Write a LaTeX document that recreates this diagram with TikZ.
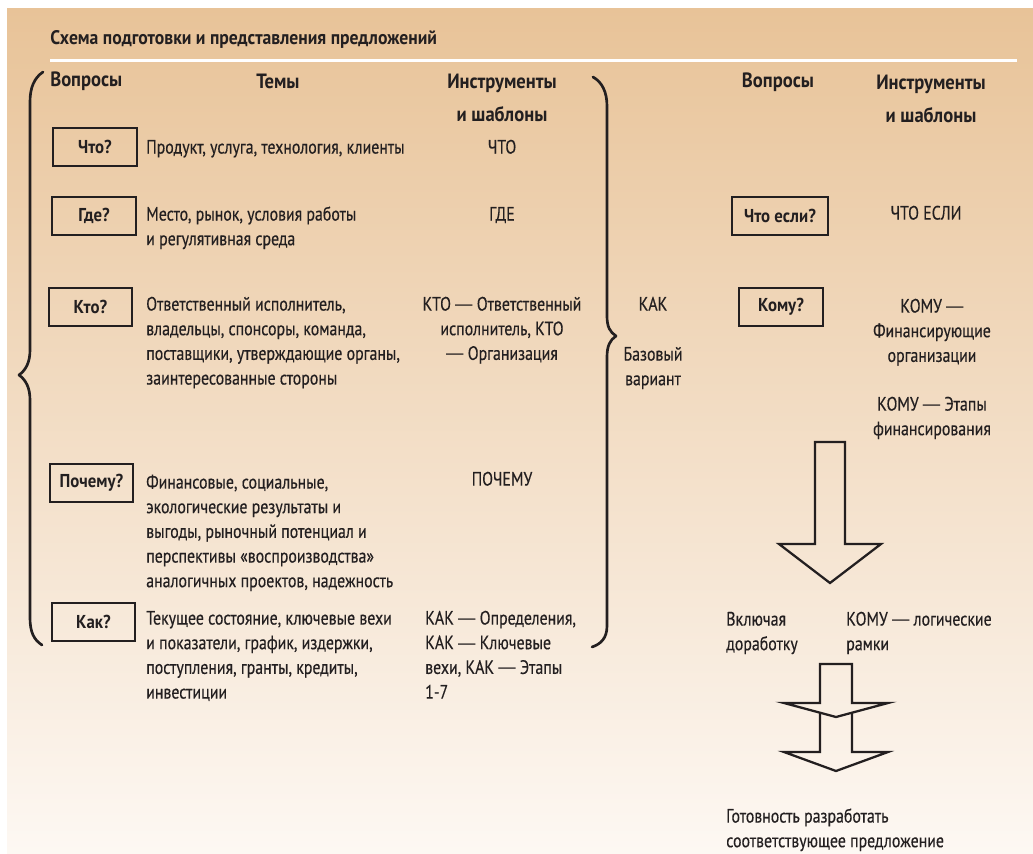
\documentclass[tikz,border=0pt]{standalone}
\usepackage{fontspec}
\setmainfont{PT Sans}[UprightFeatures={FakeStretch=0.82,FakeBold=0.4},BoldFeatures={FakeStretch=0.9}]
\newfontfamily\dashfont{Liberation Sans}[FakeStretch=0.9]
\newcommand{\md}{{\dashfont —}}
\definecolor{ink}{HTML}{231F20}
\definecolor{bgtop}{HTML}{E8C398}
\definecolor{bgbot}{HTML}{FDF8F3}
\tikzset{
  txt/.style={inner sep=0pt, text=ink, font=\fontsize{14.5}{18.5}\selectfont},
  hdr/.style={inner sep=0pt, text=ink, font=\bfseries\fontsize{15.5}{24.75}\selectfont},
  ttl/.style={inner sep=0pt, text=ink, font=\bfseries\fontsize{14.7}{16}\selectfont},
  qbox/.style={draw=ink, line width=0.9pt, inner sep=0pt, minimum height=28.5pt,
    text=ink, font=\bfseries\fontsize{14}{17}\selectfont},
  bracestroke/.style={draw=ink, line width=2pt, line cap=round, line join=round},
  bigarrow/.style={draw=ink, line width=1.7pt, line join=miter},
}
\begin{document}
\begin{tikzpicture}[x=0.75pt,y=-0.75pt]
\useasboundingbox (0,0) rectangle (1033,854);
\fill[white] (0,0) rectangle (1033,854);
\shade[top color=bgtop, bottom color=bgbot] (7,8) rectangle (1033,854);
\draw[white, line width=2.25pt] (50,60) -- (1017,60);

% title
\node[ttl, anchor=west] (title) at (50,39) {Схема подготовки и представления предложений};

% headers
\node[hdr, anchor=west] (hq) at (50,81) {Вопросы};
\node[hdr] (ht) at (278,81) {Темы};
\node[hdr, anchor=north, align=center] (hi) at (502,65) {\strut Инструменты\\и шаблоны};
\node[hdr] (hq2) at (778,82) {Вопросы};
\node[hdr, anchor=north, align=center] (hi2) at (931,66) {\strut Инструменты\\и шаблоны};

% question boxes left
\node[qbox, minimum width=63pt] (q1) at (95,147) {Что?};
\node[qbox, minimum width=63pt] (q2) at (94,216) {Где?};
\node[qbox, minimum width=62.25pt] (q3) at (90.5,307) {Кто?};
\node[qbox, minimum width=62.25pt] (q4) at (91.5,483) {Почему?};
\node[qbox, minimum width=62.25pt] (q5) at (93.5,622) {Как?};

% topics
\node[txt, anchor=north west, align=left] (t1) at (146,136) {\strut Продукт, услуга, технология, клиенты};
\node[txt, anchor=north west, align=left] (t2) at (146,203) {\strut Место, рынок, условия работы\\и регулятивная среда};
\node[txt, anchor=north west, align=left] (t3) at (146,293) {\strut Ответственный исполнитель,\\владельцы, спонсоры, команда,\\поставщики, утверждающие органы,\\заинтересованные стороны};
\node[txt, anchor=north west, align=left] (t4) at (146,471) {\strut Финансовые, социальные,\\экологические результаты и\\выгоды, рыночный потенциал и\\перспективы «воспроизводства»\\аналогичных проектов, надежность};
\node[txt, anchor=north west, align=left] (t5) at (146,607) {\strut Текущее состояние, ключевые вехи\\и показатели, график, издержки,\\поступления, гранты, кредиты,\\инвестиции};

% tools left
\node[txt, anchor=north] (i1) at (502,136) {\strut ЧТО};
\node[txt, anchor=north] (i2) at (502,203) {\strut ГДЕ};
\node[txt, anchor=north, align=center] (i3) at (502,293) {\strut КТО \md{} Ответственный\\исполнитель, КТО\\\md{} Организация};
\node[txt, anchor=north] (i4) at (502,468) {\strut ПОЧЕМУ};
\node[txt, anchor=north west, align=left] (i5) at (425,607) {\strut КАК \md{} Определения,\\КАК \md{} Ключевые\\вехи, КАК \md{} Этапы\\1-7};

% braces
\draw[bracestroke] (43,72) .. controls (34,78) and (30,88) .. (30,102) -- (30,350)
  .. controls (30,362) and (26,370) .. (19,375) .. controls (26,380) and (30,388) .. (30,400)
  -- (30,618) .. controls (30,632) and (34,640) .. (42,645);
\draw[bracestroke] (593,77) .. controls (602,82) and (607,92) .. (607,106) -- (607,316)
  .. controls (607,327) and (610,332) .. (616,336) .. controls (610,340) and (607,346) .. (607,357)
  -- (607,626) .. controls (607,638) and (601,644) .. (592,647);

% middle
\node[txt, anchor=north] (kak) at (653,293) {\strut КАК};
\node[txt, anchor=north, align=center] (base) at (653,343) {\strut Базовый\\вариант};

% right side
\node[qbox, minimum width=72pt] (q6) at (780,216) {Что если?};
\node[qbox, minimum width=63pt] (q7) at (781,307) {Кому?};
\node[txt, anchor=north] (r1) at (926,202) {\strut ЧТО ЕСЛИ};
\node[txt, anchor=north, align=center] (r2) at (932,295) {\strut КОМУ \md\\Финансирующие\\организации};
\node[txt, anchor=north, align=center] (r3) at (932,393) {\strut КОМУ \md{} Этапы\\финансирования};

% arrows
\draw[bigarrow] (815,442) -- (845,442) -- (845,544) -- (881,544) -- (830,583) -- (779,544) -- (815,544) -- cycle;
\node[txt, anchor=north west, align=left] (incl) at (726,608) {\strut Включая\\доработку};
\node[txt, anchor=north west, align=left] (logf) at (846,608) {\strut КОМУ \md{} логические\\рамки};
\draw[bigarrow] (820,664) -- (852,664) -- (852,703) -- (888,703) -- (836,717) -- (784,703) -- (820,703) -- cycle;
\draw[bigarrow] (820,712.7) -- (820,752) -- (784,752) -- (836,771) -- (888,752) -- (852,752) -- (852,712.7);
\node[txt, anchor=north west, align=left] (ready) at (726,805) {\strut Готовность разработать\\соответствующее предложение};
\end{tikzpicture}
\end{document}
